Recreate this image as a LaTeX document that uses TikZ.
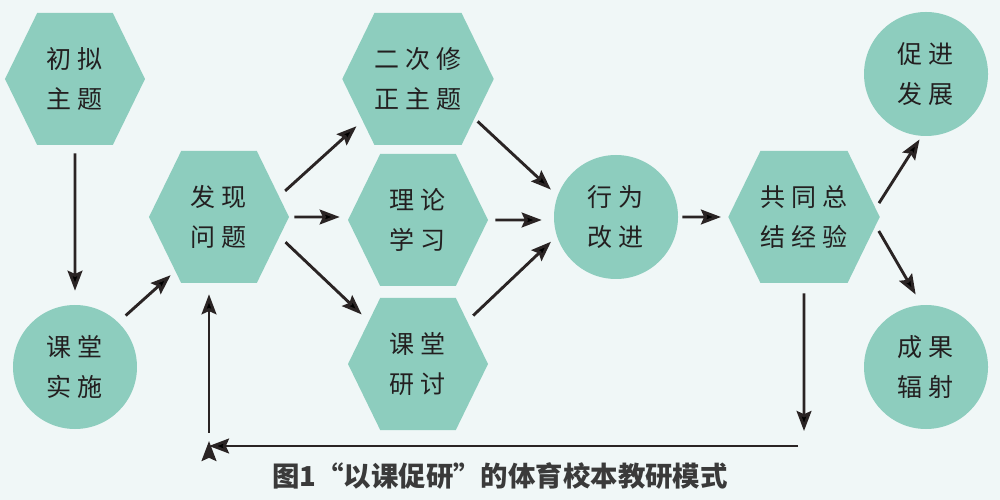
\documentclass[tikz,border=0pt]{standalone}
\usepackage{fontspec}
\newfontfamily\kaifont[LetterSpace=24]{Noto Sans CJK SC}
\newfontfamily\capfont{Noto Sans CJK SC}
\usetikzlibrary{positioning, shapes.symbols, arrows.meta}
\definecolor{bgcol}{RGB}{240,247,247}
\definecolor{hexgreen}{RGB}{141,205,190}
\definecolor{arrowcol}{RGB}{42,36,36}
\definecolor{textcol}{RGB}{35,31,32}
\definecolor{capcol}{RGB}{58,58,58}

\begin{document}
\begin{tikzpicture}[x=0.25mm,y=-0.25mm,on grid,
    hexa/.style={signal, signal to=west and east, signal from=nowhere,
      signal pointer angle=128, fill=hexgreen, minimum width=35mm,
      minimum height=33mm, inner sep=0pt, align=center, text=textcol,
      font=\kaifont\fontsize{17.8pt}{29pt}\selectfont},
    bubble/.style={circle, fill=hexgreen, minimum size=31mm, inner sep=0pt,
      align=center, text=textcol,
      font=\kaifont\fontsize{17.8pt}{29pt}\selectfont},
    flow/.style={-{Stealth[length=5mm,width=3.7mm,inset=0.8mm]},
      line width=0.72mm, draw=arrowcol, shorten <=2mm, shorten >=2mm}]
       \useasboundingbox (0,0) rectangle (1000,500);
       \fill[bgcol] (0,0) rectangle (1000,500);
       \node[hexa] (fx) at (219,217) {发现\\问题};
       \node[hexa] (cn) [above left=34.5mm and 36mm of fx] {初拟\\主题};
       \node[bubble] (ss) [below=72mm of cn] {课堂\\实施};
       \node[hexa] (ec) [above right=34.5mm and 49.75mm of fx] {二次修\\正主题};
       \node[hexa] (ll) [below=35.25mm of ec] {理论\\学习};
       \node[hexa] (yt) [below=36mm of ll] {课堂\\研讨};
       \node[bubble] (xw) [right=99.25mm of fx] {行为\\改进};
       \node[hexa] (gt) [right=47mm of xw] {共同总\\结经验};
       \node[bubble] (cj) [above right=35.75mm and 30.5mm of gt] {促进\\发展};
       \node[bubble] (cg) [below right=37.5mm and 30.5mm of gt] {成果\\辐射};
       \coordinate[below=53.5mm of gt] (fb1);
       \coordinate (fbr) at (798,446);
       \coordinate (fbl) at (209,446);
       \coordinate (fbu) at (209,433);
        \path[flow]
        (cn) edge [shorten >=3.5mm] (ss)
        (ss.46) edge [shorten <=2.5mm, shorten >=1.5mm] (fx.231)
        (fx.19) edge (ec.217)
        (fx) edge [shorten <=1.25mm] (fx -| ll.west)
        (fx.342) edge [shorten >=2.4mm] (yt.139)
        (ec.325) edge [shorten <=1mm, shorten >=2.25mm] (xw.160)
        (ll) edge [shorten <=1.75mm, shorten >=3mm] (ll -| xw.west)
        (yt.41) edge (xw.198)
        (xw) edge [shorten <=1mm, shorten >=1.75mm] (gt)
        (gt.7) edge [shorten <=1.5mm, shorten >=1mm] (cj.266)
        (gt.353) edge [shorten <=1.5mm, shorten >=3mm] (cg.94)
        (gt) edge [shorten <=2.5mm, shorten >=0mm] (fb1)
        (fbr) edge [shorten <=0mm, shorten >=0mm] (fbl)
        (fbu) edge [shorten <=0mm, shorten >=2.75mm] (fbu |- fx.south);
       \node[font=\capfont\bfseries\fontsize{19.5pt}{22pt}\selectfont, text=capcol]
         (cap) at (500,476) {图1“以课促研”的体育校本教研模式};
\end{tikzpicture}
\end{document}
